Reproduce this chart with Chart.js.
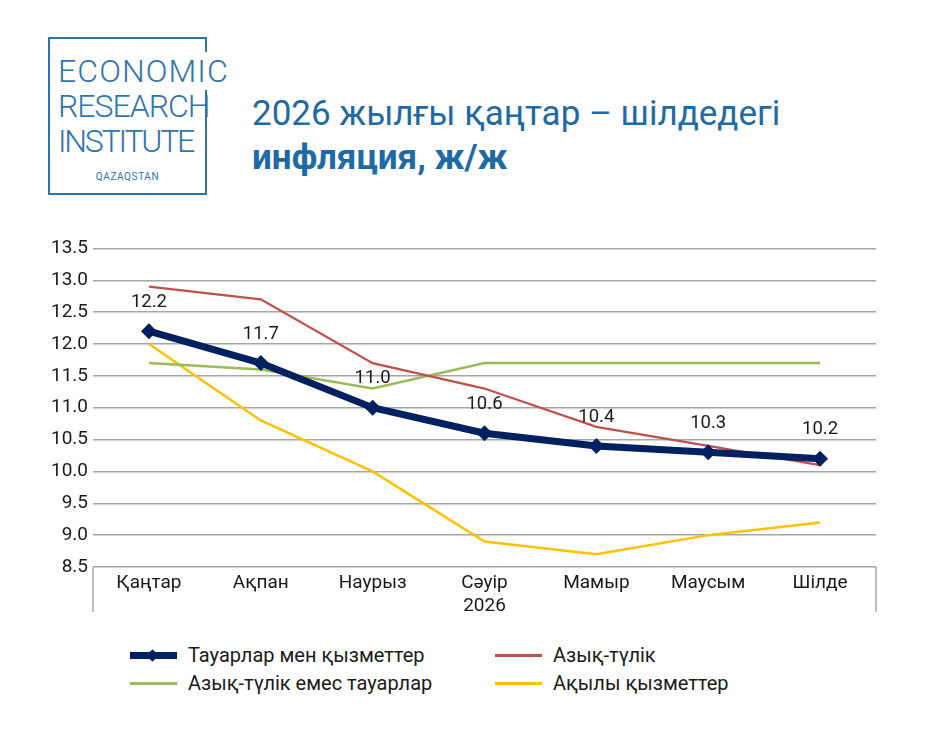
<!DOCTYPE html>
<html>
<head>
<meta charset="utf-8">
<script src="https://cdn.jsdelivr.net/npm/chart.js@4.4.1/dist/chart.umd.min.js"></script>
<style>
  html, body { margin: 0; padding: 0; background: #fff; }
  body { width: 925px; height: 743px; position: relative; overflow: hidden; font-family: Roboto, "Noto Sans", sans-serif; }
  .logo { position: absolute; left: 48px; top: 37px; width: 155px; height: 154px; border: 2px solid #2f74ad; }
  .logo .words { position: absolute; left: 8px; top: 15px; color: #2f74ad; font-weight: 300; font-size: 32px; line-height: 35px; white-space: nowrap; }
  .logo .words span { background: #fff; padding-right: 2px; }
  .logo .country { position: absolute; left: 0; width: 155px; top: 132px; text-align: center; color: #2f74ad; font-size: 10px; letter-spacing: 0.6px; }
  .title { position: absolute; left: 252px; top: 92px; color: #1f6aa5; font-size: 35px; line-height: 44px; white-space: nowrap; }
  .title b { font-weight: 700; }
  .chart-box { position: absolute; left: 0; top: 232px; width: 925px; height: 400px; }
  .chart-box canvas { display: block; width: 925px; height: 400px; }
  .legend { position: absolute; left: 130px; top: 641px; width: 700px; }
  .legend .item { position: absolute; height: 28px; display: flex; align-items: center; font-size: 20px; color: #1a1a1a; white-space: nowrap; }
  .legend .swatch { position: relative; width: 47px; margin-right: 11px; flex: none; }
  .legend .diamond { position: absolute; left: 18px; width: 9px; height: 9px; transform: rotate(45deg); }
</style>
</head>
<body>
<div class="logo">
  <div class="words"><span style="letter-spacing:1.1px">ECONOMIC</span><br><span style="letter-spacing:-1px;background:none">RESEARCH</span><br><span style="letter-spacing:-2.2px;background:none">INSTITUTE</span></div>
  <div class="country">QAZAQSTAN</div>
</div>
<div class="title">2026 жылғы қаңтар – шілдедегі<br><b>инфляция, ж/ж</b></div>
<div class="chart-box"><canvas id="inflationChart" width="925" height="400"></canvas></div>
<div class="legend" id="legend"></div>

<script>
// months, January - July 2026
const months = ['Қаңтар', 'Ақпан', 'Наурыз', ['Сәуір', '2026'], 'Мамыр', 'Маусым', 'Шілде'];

const seriesNames = ['Тауарлар мен қызметтер', 'Азық-түлік', 'Азық-түлік емес тауарлар', 'Ақылы қызметтер'];
const totalValues = [12.2, 11.7, 11.0, 10.6, 10.4, 10.3, 10.2];
const foodValues = [12.9, 12.7, 11.7, 11.3, 10.7, 10.4, 10.1];
const nonFoodValues = [11.7, 11.6, 11.3, 11.7, 11.7, 11.7, 11.7];
const servicesValues = [12.0, 10.8, 10.0, 8.9, 8.7, 9.0, 9.2];

const yTicks = [8.5, 9.0, 9.5, 10.0, 10.5, 11.0, 11.5, 12.0, 12.5, 13.0, 13.5];

const colors = ['#002060', '#c0504d', '#9bbb59', '#ffc000'];
const gridColor = '#a6a6a6';
const boxDepth = 45;

// value labels above the total line, plus the two end lines of the category box
const labelsPlugin = {
    id: 'valueLabels',
    afterDatasetsDraw(chart) {
        const ctx = chart.ctx;
        const meta = chart.getDatasetMeta(0);
        ctx.save();
        ctx.font = '18.5px Roboto, sans-serif';
        ctx.fillStyle = '#1a1a1a';
        ctx.textAlign = 'center';
        ctx.textBaseline = 'middle';
        meta.data.forEach((pt, i) => {
            ctx.fillText(totalValues[i].toFixed(1), pt.x, pt.y - 29);
        });
        ctx.restore();
    },
    afterDraw(chart) {
        const x = chart.scales.x;
        const ctx = chart.ctx;
        ctx.save();
        ctx.strokeStyle = gridColor;
        ctx.lineWidth = 1.5;
        ctx.beginPath();
        [x.left, x.right].forEach(px => {
            ctx.moveTo(px, x.top);
            ctx.lineTo(px, x.top + boxDepth);
        });
        ctx.stroke();
        ctx.restore();
    }
};

const ctx = document.getElementById('inflationChart');
const chart = new Chart(ctx, {
    type: 'line',
    data: {
        labels: months,
        datasets: [
            {
                label: seriesNames[0],
                data: totalValues,
                borderColor: colors[0],
                backgroundColor: colors[0],
                borderWidth: 7,
                pointStyle: 'rectRot',
                pointRadius: 8,
                pointBorderWidth: 0,
                tension: 0
            },
            {
                label: seriesNames[1],
                data: foodValues,
                borderColor: colors[1],
                borderWidth: 2.2,
                pointRadius: 0,
                tension: 0
            },
            {
                label: seriesNames[2],
                data: nonFoodValues,
                borderColor: colors[2],
                borderWidth: 2.5,
                pointRadius: 0,
                tension: 0
            },
            {
                label: seriesNames[3],
                data: servicesValues,
                borderColor: colors[3],
                borderWidth: 2.5,
                pointRadius: 0,
                tension: 0
            }
        ]
    },
    options: {
        responsive: false,
        animation: false,
        devicePixelRatio: 1,
        layout: { padding: { top: 7, right: 49, bottom: 0, left: 0 } },
        plugins: {
            legend: { display: false },
            tooltip: { enabled: false }
        },
        scales: {
            x: {
                offset: true,
                grid: { display: false, drawTicks: false },
                border: { display: false },
                ticks: {
                    color: '#1a1a1a',
                    font: { family: 'Roboto', size: 19, lineHeight: 1.2 },
                    padding: 5,
                    maxRotation: 0,
                    autoSkip: false
                },
                afterFit: scale => { scale.height = 400 - (567 - 232); }
            },
            y: {
                min: 8.5,
                max: 13.5,
                afterBuildTicks: scale => { scale.ticks = yTicks.map(v => ({ value: v })); },
                grid: { color: gridColor, lineWidth: 1.5, drawTicks: false },
                border: { display: false },
                ticks: {
                    color: '#1a1a1a',
                    font: { family: 'Roboto', size: 19 },
                    padding: 5,
                    callback: v => v.toFixed(1)
                },
                afterFit: scale => { scale.width = 93; }
            }
        }
    },
    plugins: [labelsPlugin]
});

// legend in two columns, built from the datasets
const legend = document.getElementById('legend');
const slots = [[0, 0], [365, 0], [0, 28], [365, 28]];
chart.data.datasets.forEach((ds, k) => {
    const item = document.createElement('div');
    item.className = 'item';
    item.style.left = slots[k][0] + 'px';
    item.style.top = slots[k][1] + 'px';
    const thick = k === 0 ? 7 : 3;
    item.innerHTML = `
        <div class="swatch" style="height:${thick}px;background:${ds.borderColor}">
            ${k === 0 ? `<div class="diamond" style="top:${(thick - 9) / 2}px;background:${ds.borderColor}"></div>` : ''}
        </div>
        <span>${ds.label}</span>
    `;
    legend.appendChild(item);
});
</script>
</body>
</html>
